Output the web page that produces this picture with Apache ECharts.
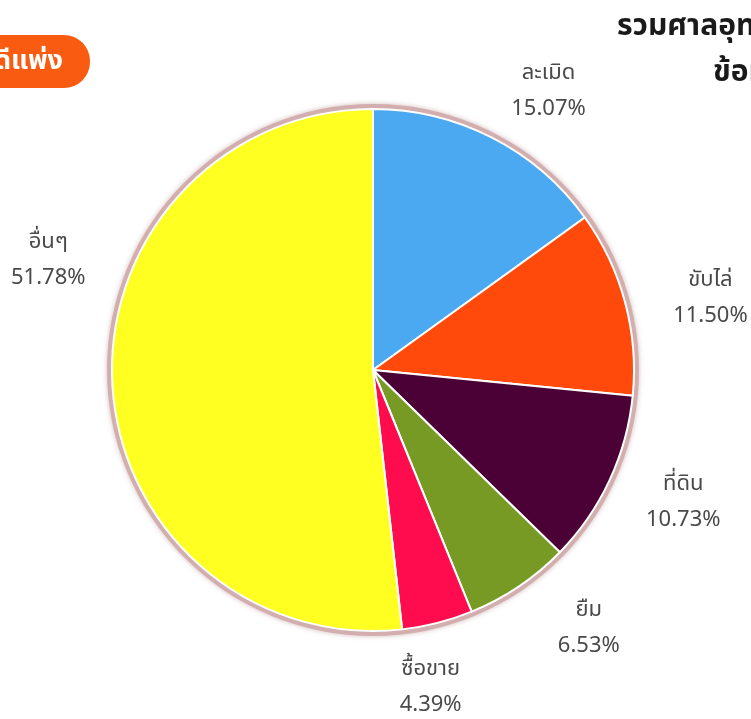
<!DOCTYPE html>
<html>
<head>
<meta charset="utf-8">
<script src="https://cdn.jsdelivr.net/npm/echarts@6/dist/echarts.min.js"></script>
<style>html,body{margin:0;padding:0;background:#fff}#c{width:751px;height:719px}</style>
</head>
<body>
<div id="c"></div>
<script>
const categories = ['ละเมิด', 'ขับไล่', 'ที่ดิน', 'ยืม', 'ซื้อขาย', 'อื่นๆ'];
const values = [15.07, 11.50, 10.73, 6.53, 4.39, 51.78];
const colors = ['#4ba9f2', '#ff4a0c', '#4b0036', '#779a24', '#ff0c4e', '#ffff22'];
// label placement tweaks (radius from centre in px, angle nudge in degrees)
const labelRadius = [330, 345, 337, 336, 322, 343];
const labelAngleNudge = [5, 3, -2, -6, 4, 22];

const CX = 373, CY = 370, R = 261;
const total = values.reduce((a, b) => a + b, 0);
const midAngles = [];
let acc = 0;
values.forEach(v => { midAngles.push((acc + v / 2) / total * 360); acc += v; });

const chart = echarts.init(document.getElementById('c'), null, {renderer: 'canvas'});
const font = '"Noto Sans", "Noto Sans Thai", "Liberation Sans", sans-serif';

chart.setOption({
  backgroundColor: '#ffffff',
  animation: false,
  title: [
    {text: 'รวมศาลอุทธรณ์', left: 612, top: 6,
     textStyle: {fontSize: 30, fontWeight: 'bold', color: '#1a1a1a', fontFamily: font}},
    {text: 'ข้อมูล', left: 708, top: 52,
     textStyle: {fontSize: 30, fontWeight: 'bold', color: '#1a1a1a', fontFamily: font}}
  ],
  graphic: [{
    type: 'group', left: -45, top: 35,
    children: [
      {type: 'rect', shape: {x: 0, y: 0, width: 135, height: 53, r: 26},
       style: {fill: '#f95b10'}},
      {type: 'text', style: {x: 108, y: 26, text: 'คดีแพ่ง', fill: '#ffffff',
        font: 'bold 27px ' + font, textAlign: 'right', textVerticalAlign: 'middle'}}
    ]
  }],
  series: [
    {
      type: 'pie', silent: true, center: [CX, CY], radius: [0, R + 5],
      startAngle: 90, label: {show: false}, labelLine: {show: false}, z: 1,
      itemStyle: {color: '#d2aeae', shadowBlur: 5, shadowColor: 'rgba(170,120,120,0.5)'},
      data: [{value: 1, name: ''}]
    },
    {
      type: 'pie', center: [CX, CY], radius: [0, R], startAngle: 90, clockwise: true,
      z: 2,
      itemStyle: {borderColor: '#ffffff', borderWidth: 2},
      label: {
        show: true, position: 'outside', color: '#4a4a4a', fontSize: 22,
        fontFamily: font, lineHeight: 36, align: 'center', overflow: 'none',
        formatter: p => p.name + '\n' + values[p.dataIndex].toFixed(2) + '%'
      },
      labelLine: {show: false},
      labelLayout: function (params) {
        const i = params.dataIndex;
        const a = (midAngles[i] + labelAngleNudge[i]) * Math.PI / 180;
        const r = labelRadius[i];
        return {
          x: CX + r * Math.sin(a),
          y: CY - r * Math.cos(a),
          align: 'center', verticalAlign: 'middle', width: 200
        };
      },
      data: categories.map((c, i) => ({value: values[i], name: c, itemStyle: {color: colors[i]}}))
    }
  ]
});
</script>
</body>
</html>
